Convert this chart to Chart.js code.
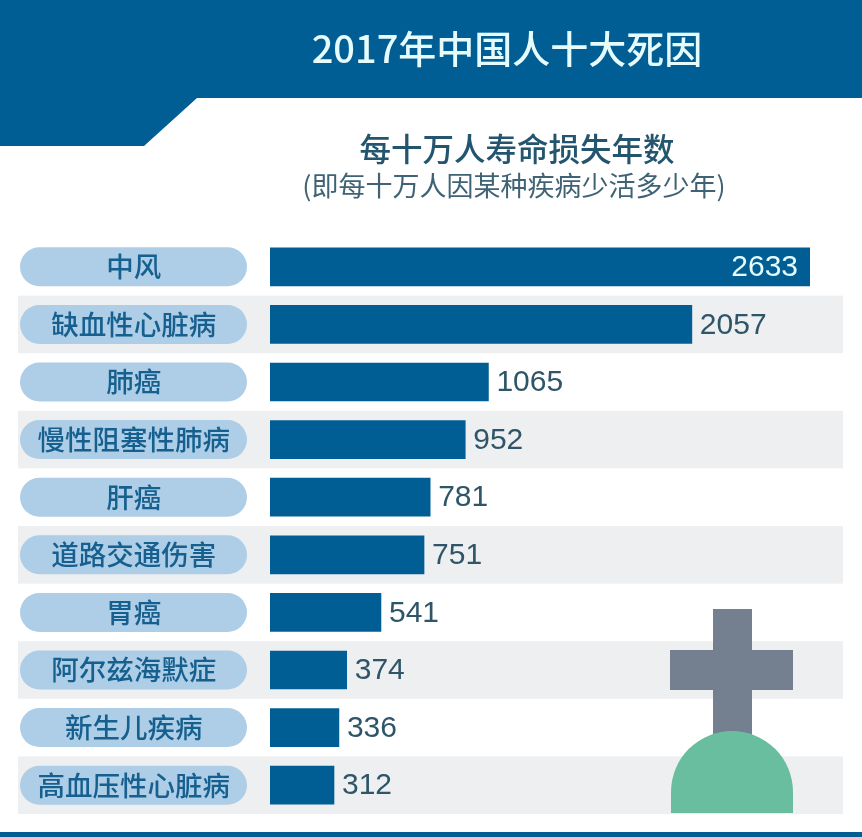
<!DOCTYPE html>
<html lang="zh-CN">
<head>
<meta charset="utf-8">
<title>2017年中国人十大死因</title>
<script src="https://cdn.jsdelivr.net/npm/chart.js@4"></script>
<style>
html,body{margin:0;padding:0;background:#fff;}
#wrap{position:relative;width:862px;height:837px;overflow:hidden;font-family:"Noto Sans CJK SC","Noto Sans",sans-serif;}
canvas{position:absolute;left:0;top:0;}
.t{position:absolute;white-space:nowrap;text-align:center;transform:translateX(-50%);line-height:1;}
#title{left:507px;top:28px;font-size:38px;font-weight:500;color:#E6FBFB;}
#sub1{left:517px;top:132px;font-size:31.5px;font-weight:500;color:#24556F;}
#sub2{left:514px;top:171px;font-size:27px;font-weight:400;color:#3F6375;}
</style>
</head>
<body>
<div id="wrap">
<canvas id="c" width="862" height="837"></canvas>
<div class="t" id="title">2017年中国人十大死因</div>
<div class="t" id="sub1">每十万人寿命损失年数</div>
<div class="t" id="sub2">(即每十万人因某种疾病少活多少年)</div>
</div>
<script>
const categories = ["中风","缺血性心脏病","肺癌","慢性阻塞性肺病","肝癌","道路交通伤害","胃癌","阿尔兹海默症","新生儿疾病","高血压性心脏病"];
const yearsLost = [2633,2057,1065,952,781,751,541,374,336,312];

const BLUE = "#005E94";

const decor = {
  id: "decor",
  beforeDraw(chart) {
    const ctx = chart.ctx, y = chart.scales.y;
    ctx.save();
    // header
    ctx.fillStyle = BLUE;
    ctx.beginPath();
    ctx.moveTo(0,0); ctx.lineTo(862,0); ctx.lineTo(862,98); ctx.lineTo(197,98);
    ctx.lineTo(144,146); ctx.lineTo(0,146); ctx.closePath(); ctx.fill();
    // footer
    ctx.fillRect(0,832,862,5);
    // alternating bands and label pills
    const pitch = y.getPixelForValue(1) - y.getPixelForValue(0);
    categories.forEach((c,i) => {
      const py = y.getPixelForValue(i);
      if (i % 2 === 1) {
        ctx.fillStyle = "#EEEFF1";
        ctx.fillRect(18, py - pitch/2, 825, pitch);
      }
    });
    categories.forEach((c,i) => {
      const py = y.getPixelForValue(i);
      ctx.fillStyle = "#AECDE6";
      ctx.beginPath();
      ctx.roundRect(20, py - 19.5, 227, 39, 19.5);
      ctx.fill();
    });
    // tombstone
    ctx.fillStyle = "#74808F";
    ctx.fillRect(713,609,39,130);
    ctx.fillRect(670,650,123,40);
    ctx.fillStyle = "#68BE9F";
    ctx.beginPath();
    ctx.moveTo(671,813);
    ctx.lineTo(671,792);
    ctx.ellipse(732,792,61,61,0,Math.PI,2*Math.PI);
    ctx.lineTo(793,813);
    ctx.closePath(); ctx.fill();
    ctx.restore();
  },
  afterDatasetsDraw(chart) {
    const ctx = chart.ctx, bars = chart.getDatasetMeta(0).data;
    ctx.save();
    ctx.font = '30px "Liberation Sans", sans-serif';
    ctx.textBaseline = "middle";
    bars.forEach((b,i) => {
      const label = String(yearsLost[i]);
      if (i === 0) {
        ctx.textAlign = "right";
        ctx.fillStyle = "#E6FBFB";
        ctx.fillText(label, b.x - 12, b.y + 1);
      } else {
        ctx.textAlign = "left";
        ctx.fillStyle = "#2F5568";
        ctx.fillText(label, b.x + 8, b.y + 1);
      }
    });
    ctx.restore();
  }
};

new Chart(document.getElementById("c"), {
  type: "bar",
  data: {
    labels: categories,
    datasets: [{ data: yearsLost, backgroundColor: BLUE, barThickness: 38, borderWidth: 0 }]
  },
  options: {
    indexAxis: "y",
    responsive: false,
    animation: false,
    layout: { padding: { left: 20, right: 52, top: 238, bottom: 23 } },
    plugins: { legend: { display: false }, tooltip: { enabled: false } },
    scales: {
      x: { display: false, min: 0, max: 2633 },
      y: {
        afterFit(s) { s.width = 250; },
        grid: { display: false, drawTicks: true, tickLength: 40 },
        border: { display: false },
        ticks: {
          crossAlign: "center",
          padding: 0,
          autoSkip: false,
          color: "#16608F",
          font: { family: '"Noto Sans CJK SC"', size: 27.5, weight: "500" }
        }
      }
    }
  },
  plugins: [decor]
});
</script>
</body>
</html>
